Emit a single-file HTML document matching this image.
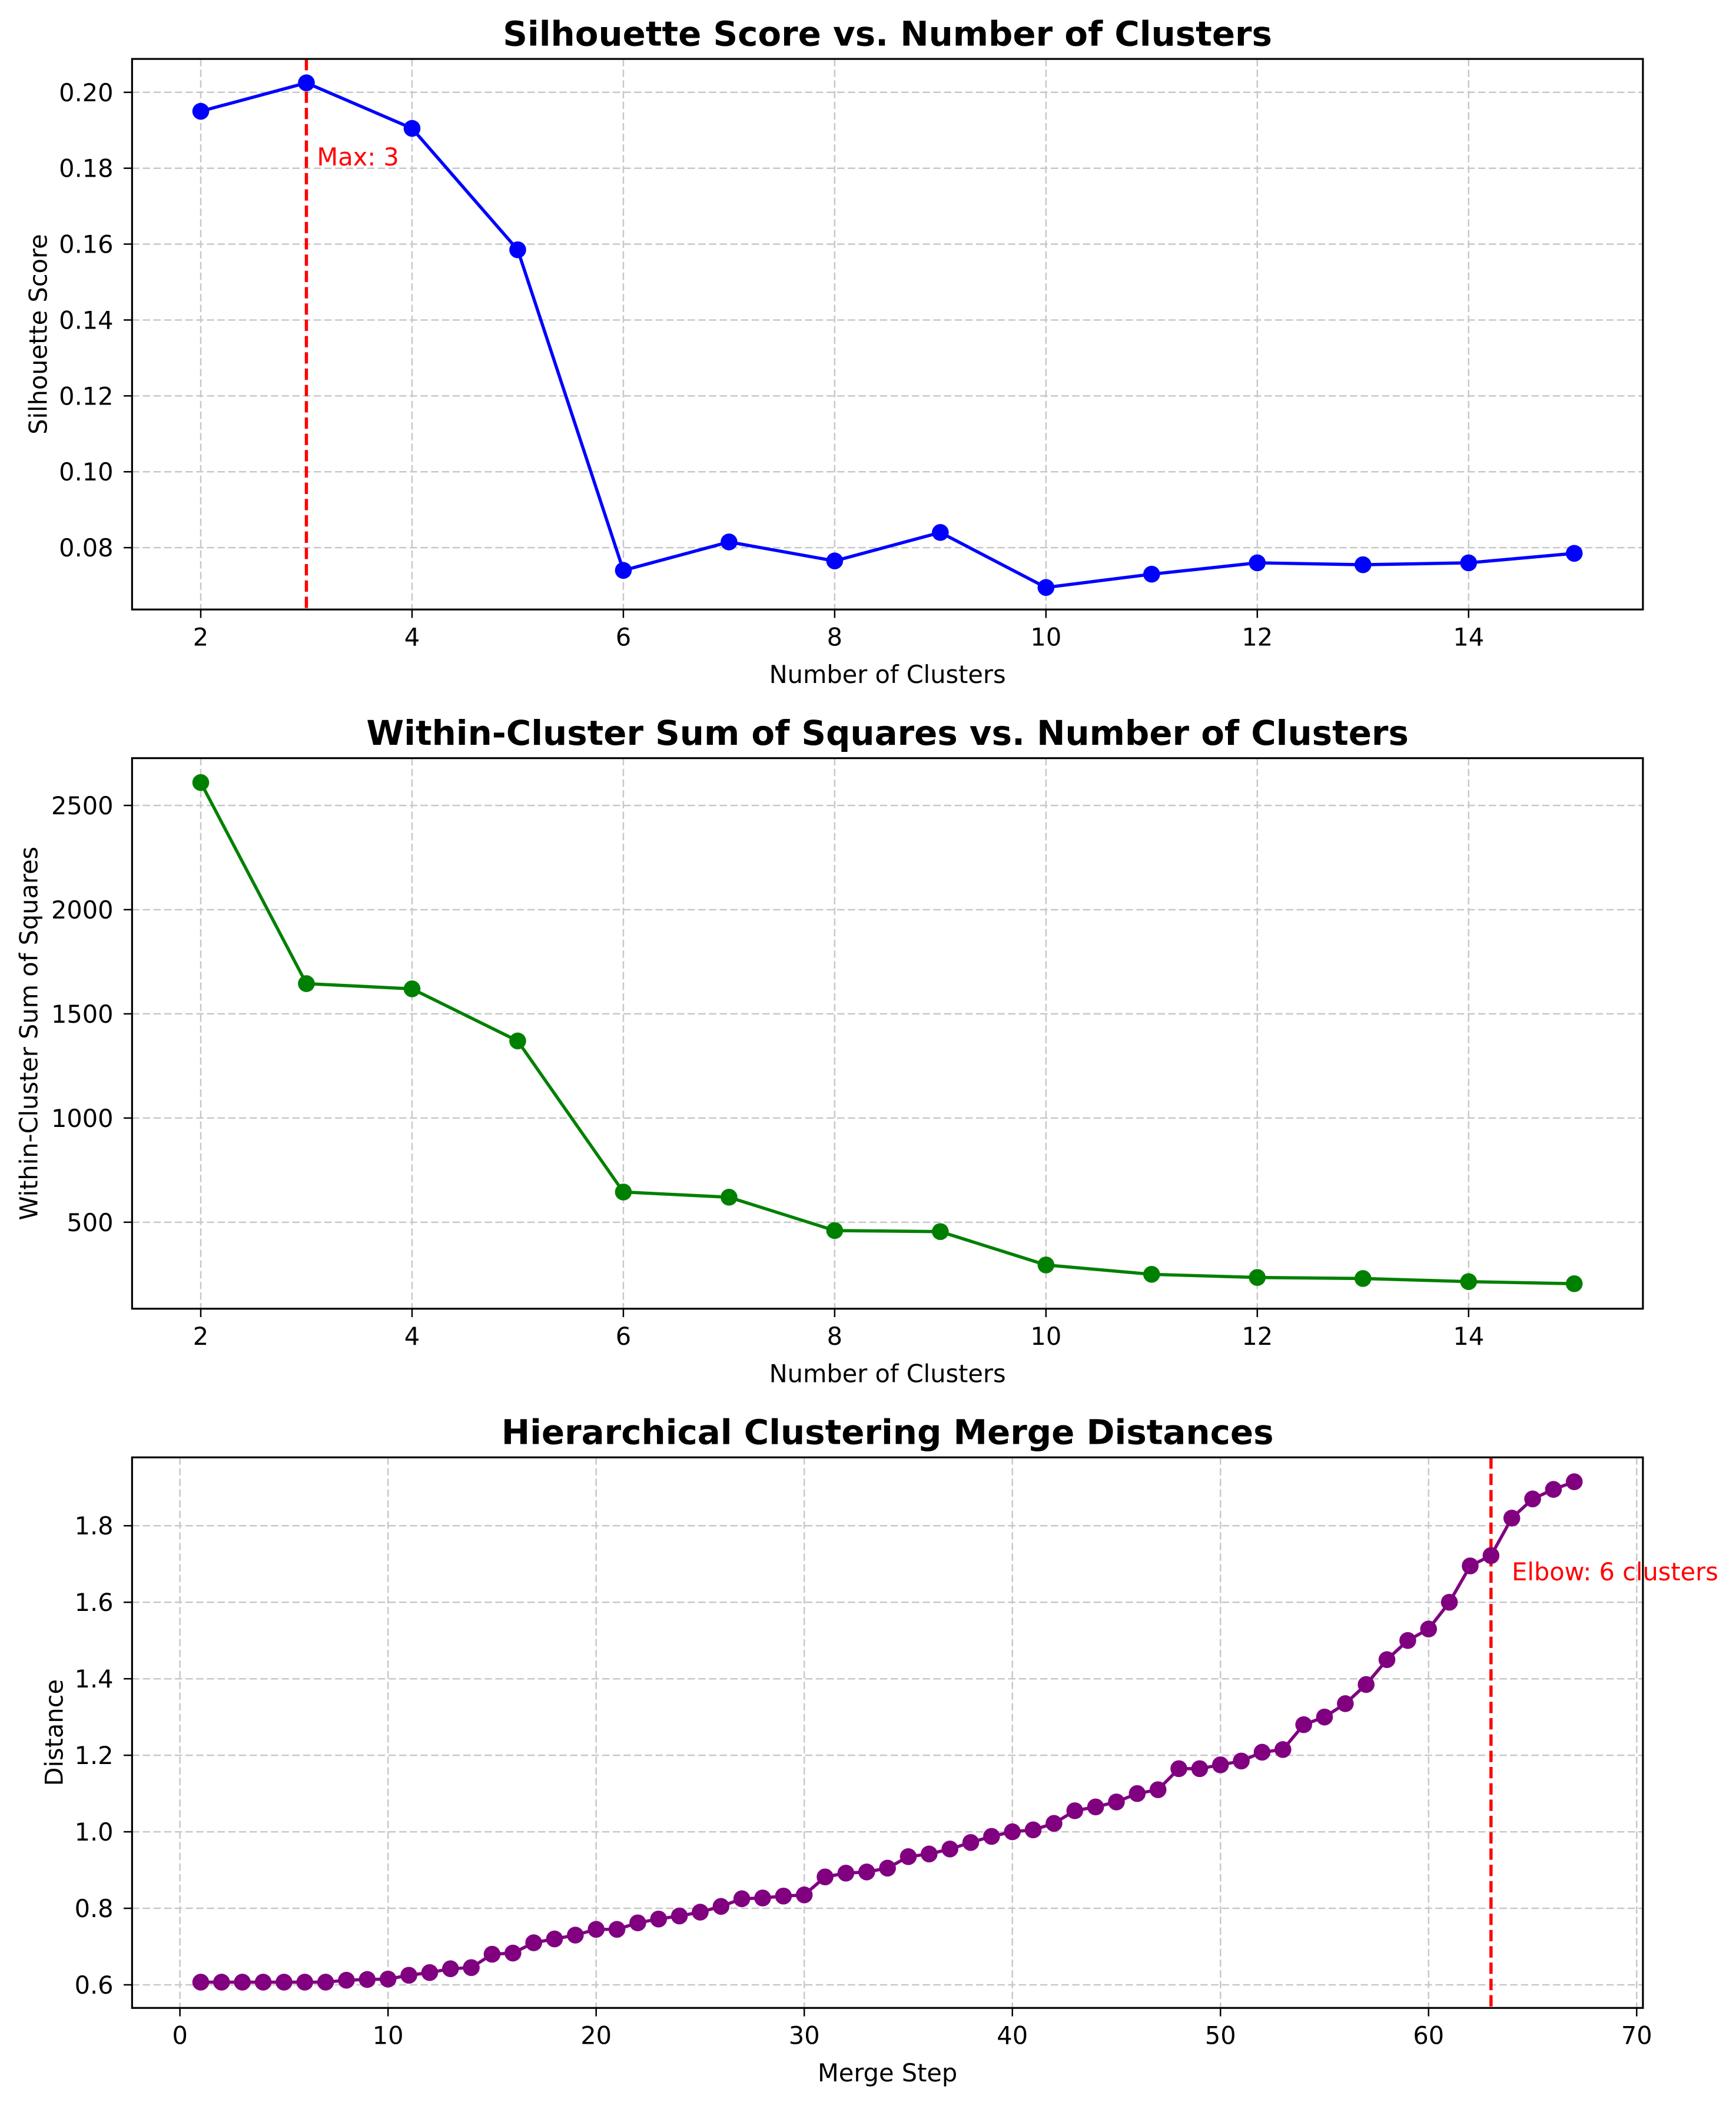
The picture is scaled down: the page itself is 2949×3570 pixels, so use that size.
<!DOCTYPE html>
<html><head><meta charset="utf-8"><style>
html,body{margin:0;padding:0;background:#fff}
svg{display:block;font-family:"DejaVu Sans","Liberation Sans",sans-serif}
</style></head><body>
<svg id="fig" width="2949" height="3570" viewBox="0 0 1300 1573.7" xmlns="http://www.w3.org/2000/svg"></svg>
<script>
const silK = [2,3,4,5,6,7,8,9,10,11,12,13,14,15];
const silVals = [0.195,0.2025,0.1905,0.1585,0.074,0.0815,0.0765,0.084,0.0695,0.073,0.076,0.0755,0.076,0.0785];
const silYTicks = [0.08,0.10,0.12,0.14,0.16,0.18,0.20];
const kXTicks = [2,4,6,8,10,12,14];
const wcssVals = [2610,1645,1620,1370,645,620,460,455,295,250,235,230,215,205];
const wcssYTicks = [500,1000,1500,2000,2500];
const mergeSteps = Array.from({length:67},(_,i)=>i+1);
const mergeVals = [0.607,0.607,0.607,0.607,0.607,0.607,0.607,0.612,0.614,0.615,0.625,0.632,0.642,0.645,0.68,0.683,0.71,0.72,0.73,0.745,0.745,0.762,0.772,0.78,0.79,0.805,0.825,0.827,0.832,0.835,0.882,0.892,0.895,0.905,0.935,0.942,0.955,0.972,0.988,1.0,1.005,1.022,1.055,1.065,1.078,1.1,1.11,1.165,1.165,1.175,1.185,1.208,1.215,1.28,1.3,1.335,1.385,1.45,1.5,1.53,1.6,1.695,1.722,1.82,1.87,1.895,1.915];
const mergeXTicks = [0,10,20,30,40,50,60,70];
const mergeYTicks = [0.6,0.8,1.0,1.2,1.4,1.6,1.8];

const NS="http://www.w3.org/2000/svg";
const fig=document.getElementById('fig');
function mk(tag,attrs,parent,txt){const e=document.createElementNS(NS,tag);for(const k in attrs)e.setAttribute(k,attrs[k]);if(txt!==undefined)e.textContent=txt;(parent||fig).appendChild(e);return e;}

function chart(o){
  const g=mk('g',{});
  
  
  const L=98.9,R=1230.3,T=o.top,B=o.top+412.2;
  const xs=v=>L+(v-o.xmin)/(o.xmax-o.xmin)*(R-L);
  const ys=v=>B-(v-o.ymin)/(o.ymax-o.ymin)*(B-T);
  o.xt.forEach(t=>{const l=mk('line',{x1:xs(t),x2:xs(t),y1:T,y2:B,stroke:'#c8c8c8','stroke-width':1.1,'stroke-dasharray':'5.5,2.5'},g);});
  o.yt.forEach(t=>{const l=mk('line',{x1:L,x2:R,y1:ys(t),y2:ys(t),stroke:'#c8c8c8','stroke-width':1.1,'stroke-dasharray':'5.5,2.5'},g);});
  o.xt.forEach(t=>{mk('line',{x1:xs(t),x2:xs(t),y1:B,y2:B+6.3,stroke:'#000','stroke-width':1.1},g);const tx=mk('text',{x:xs(t),y:B+27,'text-anchor':'middle','font-size':18.3},g,String(t));});
  o.yt.forEach(t=>{mk('line',{x1:L-6.3,x2:L,y1:ys(t),y2:ys(t),stroke:'#000','stroke-width':1.1},g);const tx=mk('text',{x:L-14,y:ys(t)+6.6,'text-anchor':'end','font-size':18.3},g,o.fmt(t));});
  if(o.vline!==undefined){const l=mk('line',{x1:xs(o.vline),x2:xs(o.vline),y1:T,y2:B,stroke:'#ff0000','stroke-width':2.4,'stroke-dasharray':'8.5,3.7'},g);}
  const pts=o.x.map((v,i)=>xs(v).toFixed(2)+','+ys(o.y[i]).toFixed(2)).join(' ');
  const pl=mk('polyline',{points:pts,fill:'none',stroke:o.color,'stroke-width':2.4},g);
  
  o.x.forEach((v,i)=>{const c=mk('circle',{cx:xs(v),cy:ys(o.y[i]),r:6.3,fill:o.color},g);});
  if(o.ann){const a=mk('text',{x:xs(o.ann.x),y:ys(o.ann.y)+6.5,'font-size':18.3,fill:'#ff0000'},g,o.ann.t);}
  const f=mk('rect',{x:L,y:T,width:R-L,height:B-T,fill:'none',stroke:'#000','stroke-width':1.4},g);
  
  const ti=mk('text',{x:(L+R)/2,y:T-10,'text-anchor':'middle','font-size':25.5,'font-weight':'bold'},g,o.title);
  
  const xl=mk('text',{x:(L+R)/2,y:B+55,'text-anchor':'middle','font-size':18.3},g,o.xlabel);
  
  const cy=(T+B)/2;
  const yl=mk('text',{x:o.ylx,y:cy,'text-anchor':'middle','font-size':18.3,transform:`rotate(-90 ${o.ylx} ${cy})`},g,o.ylabel);
  
}

chart({name:'silhouette-chart',top:44.1,xmin:1.35,xmax:15.65,ymin:0.0637,ymax:0.2088,xt:kXTicks,yt:silYTicks,fmt:t=>t.toFixed(2),x:silK,y:silVals,color:'#0000ff',vline:3,ann:{x:3.1,y:0.183,t:'Max: 3'},title:'Silhouette Score vs. Number of Clusters',xlabel:'Number of Clusters',ylabel:'Silhouette Score',ylx:35});
chart({name:'wcss-chart',top:567.6,xmin:1.35,xmax:15.65,ymin:85,ymax:2727,xt:kXTicks,yt:wcssYTicks,fmt:t=>String(t),x:silK,y:wcssVals,color:'#008000',title:'Within-Cluster Sum of Squares vs. Number of Clusters',xlabel:'Number of Clusters',ylabel:'Within-Cluster Sum of Squares',ylx:28});
chart({name:'merge-distance-chart',top:1091.1,xmin:-2.3,xmax:70.3,ymin:0.5396,ymax:1.9787,xt:mergeXTicks,yt:mergeYTicks,fmt:t=>t.toFixed(1),x:mergeSteps,y:mergeVals,color:'#800080',vline:63,ann:{x:64,y:1.68,t:'Elbow: 6 clusters'},title:'Hierarchical Clustering Merge Distances',xlabel:'Merge Step',ylabel:'Distance',ylx:47});
</script>
</body></html>
